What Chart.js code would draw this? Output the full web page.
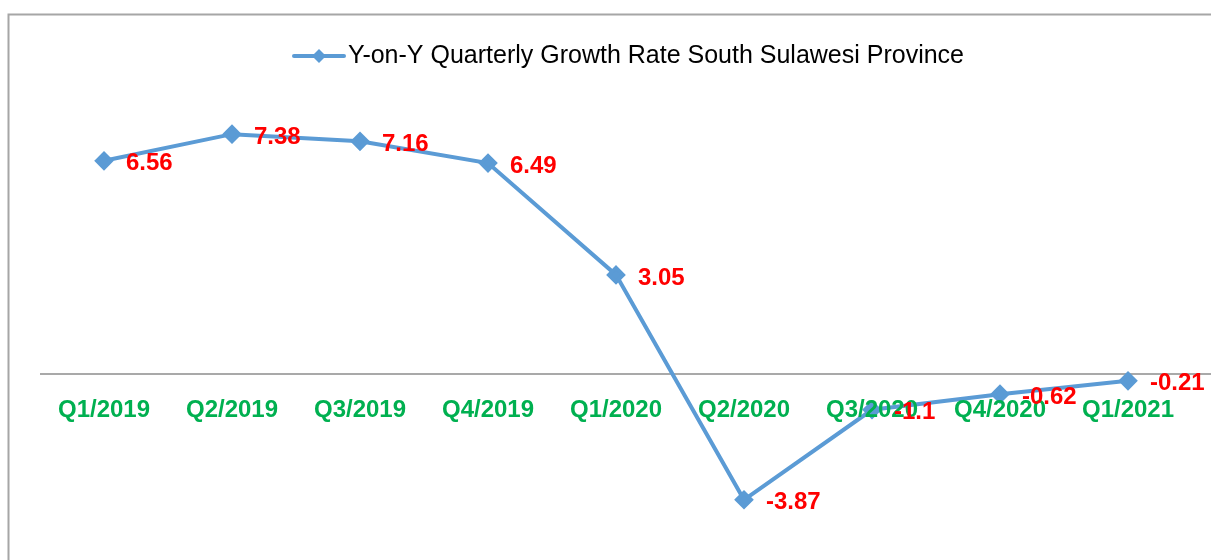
<!DOCTYPE html>
<html>
<head>
<meta charset="utf-8">
<script src="https://cdn.jsdelivr.net/npm/chart.js@4"></script>
<style>
  html, body { margin: 0; padding: 0; background: #fff; }
  #wrap { width: 1211px; height: 560px; position: relative; }
</style>
</head>
<body>
<div id="wrap"><canvas id="canvas"></canvas></div>
<script>
  var quarters = ['Q1/2019', 'Q2/2019', 'Q3/2019', 'Q4/2019', 'Q1/2020', 'Q2/2020', 'Q3/2020', 'Q4/2020', 'Q1/2021'];
  var growth = [6.56, 7.38, 7.16, 6.49, 3.05, -3.87, -1.1, -0.62, -0.21];
  var growthText = ['6.56', '7.38', '7.16', '6.49', '3.05', '-3.87', '-1.1', '-0.62', '-0.21'];
  var seriesName = 'Y-on-Y Quarterly Growth Rate South Sulawesi Province';

  var lineBlue = '#5B9BD5';
  var fontName = '"Liberation Sans", Arial, sans-serif';

  // frame, zero line, legend, category labels and value labels
  var decorations = {
    id: 'decorations',
    beforeDatasetsDraw: function(chart) {
      var ctx = chart.ctx;
      var y0 = chart.scales.y.getPixelForValue(0);
      ctx.save();
      ctx.strokeStyle = '#A6A6A6';
      ctx.lineWidth = 2;
      ctx.beginPath();
      ctx.moveTo(8.5, chart.height);
      ctx.lineTo(8.5, 14.5);
      ctx.lineTo(chart.width, 14.5);
      ctx.stroke();

      ctx.strokeStyle = '#8C8C8C';
      ctx.lineWidth = 1.5;
      ctx.beginPath();
      ctx.moveTo(chart.chartArea.left, y0);
      ctx.lineTo(chart.width, y0);
      ctx.stroke();

      // legend
      ctx.strokeStyle = lineBlue;
      ctx.lineWidth = 4;
      ctx.lineCap = 'round';
      ctx.beginPath();
      ctx.moveTo(294, 56);
      ctx.lineTo(344, 56);
      ctx.stroke();
      ctx.fillStyle = lineBlue;
      ctx.beginPath();
      ctx.moveTo(319, 49);
      ctx.lineTo(326, 56);
      ctx.lineTo(319, 63);
      ctx.lineTo(312, 56);
      ctx.closePath();
      ctx.fill();
      ctx.fillStyle = '#000';
      ctx.font = '25px ' + fontName;
      ctx.textBaseline = 'middle';
      ctx.textAlign = 'left';
      ctx.fillText(seriesName, 348, 56);
      ctx.restore();
    },
    afterDatasetsDraw: function(chart) {
      var ctx = chart.ctx;
      var xs = chart.scales.x;
      var y0 = chart.scales.y.getPixelForValue(0);
      ctx.save();
      ctx.textBaseline = 'middle';
      ctx.font = 'bold 24px ' + fontName;
      ctx.fillStyle = '#00B050';
      ctx.textAlign = 'center';
      quarters.forEach(function(q, i) {
        ctx.fillText(q, xs.getPixelForValue(i), y0 + 36);
      });
      ctx.fillStyle = '#FF0000';
      ctx.textAlign = 'left';
      chart.getDatasetMeta(0).data.forEach(function(pt, i) {
        ctx.fillText(growthText[i], pt.x + 22, pt.y + 3);
      });
      ctx.restore();
    }
  };

  var ctx = document.getElementById('canvas').getContext('2d');
  var chart = new Chart(ctx, {
    type: 'line',
    data: {
      labels: quarters,
      datasets: [{
        label: seriesName,
        data: growth,
        borderColor: lineBlue,
        backgroundColor: lineBlue,
        borderWidth: 4,
        pointStyle: 'rectRot',
        pointRadius: 7,
        pointHoverRadius: 7,
        tension: 0
      }]
    },
    options: {
      responsive: true,
      maintainAspectRatio: false,
      animation: false,
      layout: { padding: { left: 40, right: 19, top: 81.5, bottom: 23.5 } },
      plugins: {
        legend: { display: false },
        tooltip: { enabled: false }
      },
      scales: {
        x: { display: false, offset: true },
        y: { display: false, min: -5, max: 9 }
      }
    },
    plugins: [decorations]
  });
</script>
</body>
</html>
